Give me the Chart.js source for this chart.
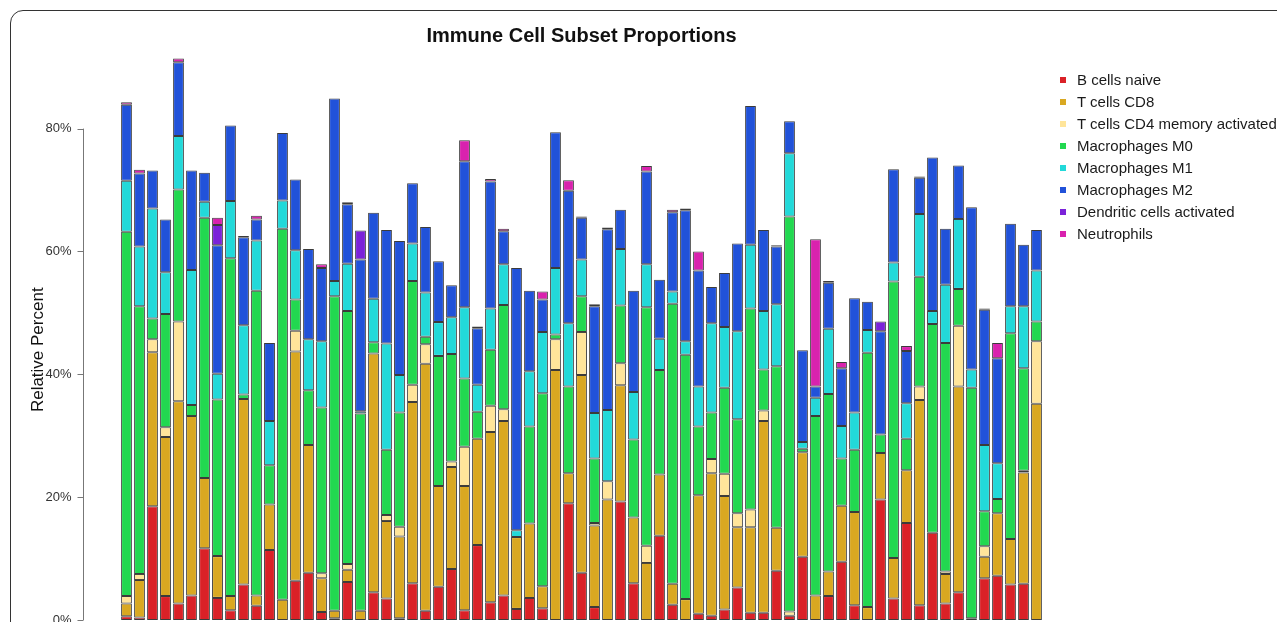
<!DOCTYPE html>
<html>
<head>
<meta charset="utf-8">
<title>Immune Cell Subset Proportions</title>
<script src="https://cdn.jsdelivr.net/npm/chart.js@4.4.0/dist/chart.umd.min.js"></script>
<style>
  html, body { margin: 0; padding: 0; background: #fff; overflow: hidden; }
  #wrap { position: relative; width: 1277px; height: 622px; overflow: hidden; }
  #frame { position: absolute; left: 10px; top: 10px; width: 1320px; height: 700px;
           border: 1px solid #333; border-radius: 13px; box-sizing: border-box; }
  #chart1 { position: absolute; left: 0; top: 0; }
  #legend { position: absolute; left: 1060px; top: 69px;
            font-family: "Liberation Sans", Arial, sans-serif; font-size: 15px; color: #1a1a1a; }
  .item { height: 22px; line-height: 22px; white-space: nowrap; }
  .box { display: inline-block; width: 6px; height: 6px; margin-right: 11px; vertical-align: middle; position: relative; top: -1px; }
</style>
</head>
<body>
<div id="wrap">
  <div id="frame"></div>
  <canvas id="chart1" width="1277" height="622"></canvas>
  <div id="legend"></div>
</div>
<script>
// cell types, bottom to top of each stack
var cellTypes = ["B cells naive", "T cells CD8", "T cells CD4 memory activated", "Macrophages M0",
                 "Macrophages M1", "Macrophages M2", "Dendritic cells activated", "Neutrophils"];
var cellColors = ["#DA2127", "#D9A821", "#FFE59A", "#22D850", "#22D9D9", "#2152D9", "#7B22D9", "#D922AE"];

// relative percent per sample (71 samples)
var bCellsNaive = [0.6,0.4,18.5,3.9,2.7,4.0,11.7,3.6,1.6,5.8,2.3,11.4,0,6.4,7.7,1.3,0.3,6.2,0,4.5,
  3.5,0.3,6.0,1.5,5.4,8.3,1.6,12.2,2.9,4.0,1.8,3.6,1.9,0,19.0,7.7,2.1,0,19.3,6.0,
  0,13.7,2.5,0,1.0,0.7,1.7,5.3,1.2,1.2,8.0,0.7,10.3,0,3.9,9.5,2.4,0,19.6,3.5,
  15.8,2.4,14.2,2.7,4.5,0.3,6.8,7.2,5.8,5.9,0];
var tCellsCD8 = [2.1,6.1,25.1,25.9,32.9,29.2,11.4,6.8,2.3,30.2,1.7,7.4,3.3,37.3,20.8,5.5,1.2,2.0,1.5,38.9,
  12.6,13.3,29.5,40.2,16.4,16.6,20.2,17.3,27.7,28.4,11.7,12.1,3.6,40.7,4.9,32.2,13.3,19.6,18.9,10.7,
  9.3,10.0,3.4,3.4,19.3,23.2,18.5,9.8,13.9,31.2,7.0,0,17.0,4.0,4.0,9.1,15.2,2.1,7.6,6.6,
  8.6,33.4,0,4.8,33.5,0,3.5,10.2,7.4,18.1,35.2];
var tCellsCD4MemAct = [1.2,1.0,2.1,1.6,13.0,0,0,0,0,0,0,0,0,3.4,0,0.8,0,0.9,0,0,
  1.0,1.6,2.8,3.2,0,0.9,6.4,0,4.3,1.9,0,0,0,5.0,0,7.0,0.4,3.0,3.6,0,
  2.8,0,0,0,0,2.3,3.6,2.3,2.9,1.7,0,0.7,0,0,0,0,0,0,0,0,
  0,2.2,0,0.4,9.9,0,1.7,0,0,0.3,10.2];
var macrophagesM0 = [59.3,43.6,3.4,18.4,21.5,1.8,42.4,25.5,55.0,0.7,49.6,6.4,60.4,5.1,8.9,27.0,51.2,41.2,32.1,1.8,
  10.6,18.6,16.9,1.2,21.2,17.5,11.1,4.4,9.1,17.0,0,15.8,31.4,0.8,14.1,5.8,10.5,0,9.4,12.7,
  38.8,17.0,45.6,39.8,11.2,7.6,14.0,15.3,32.7,6.7,26.3,64.3,0.6,29.2,28.9,7.7,10.1,41.4,3.0,45.0,
  5.1,17.9,34.0,37.2,6.0,37.5,5.7,2.3,33.5,16.7,3.2];
var macrophagesM1 = [8.3,9.7,17.9,6.8,8.7,22.0,2.6,4.2,9.3,11.3,8.2,7.2,4.6,8.0,8.3,10.8,2.5,7.7,0.4,7.1,
  17.3,6.1,6.1,7.2,5.5,6.0,11.6,4.4,6.7,6.6,1.1,9.0,10.0,10.8,10.3,6.0,7.4,11.6,9.2,7.7,
  7.0,5.1,2.0,2.2,6.5,14.5,9.9,14.3,10.4,9.5,10.1,10.3,1.1,3.0,10.6,5.3,6.1,3.7,0,3.1,
  5.8,10.2,2.1,9.5,11.4,3.0,10.8,5.8,4.4,10.1,8.3];
var macrophagesM2 = [12.4,11.9,6.2,8.6,12.0,16.2,4.7,20.9,12.3,14.3,3.4,12.7,11.0,11.5,14.7,11.9,29.7,9.7,24.7,14.0,
  18.5,21.8,9.8,10.7,9.9,5.2,23.8,9.2,20.7,5.4,42.7,13.1,5.3,22.1,21.6,6.8,17.4,29.4,6.4,16.5,
  15.1,9.6,12.9,21.3,18.9,5.9,8.8,14.3,22.6,13.2,9.4,5.2,14.9,1.8,7.5,9.4,18.6,4.6,16.8,15.2,
  8.5,5.9,25.0,9.1,8.7,26.4,22.0,17.1,13.4,10.0,6.6];
var dendriticAct = [0,0,0,0,0,0,0,3.3,0,0,0,0,0,0,0,0,0,0,4.7,0,
  0,0,0,0,0,0,0,0,0,0,0,0,0,0,0,0,0,0,0,0,
  0,0,0,0,0,0,0,0,0,0,0,0,0,0,0,0,0,0,1.6,0,
  0,0,0,0,0,0,0,0,0,0,0];
var neutrophils = [0.4,0.6,0,0,0.6,0,0,1.2,0,0.2,0.6,0,0,0,0,0.6,0,0.3,0,0,
  0,0,0,0,0,0,3.4,0.3,0.4,0.4,0,0,1.3,0,1.7,0.2,0.3,0.3,0,0,
  0.9,0,0.4,0.3,3.1,0,0,0,0,0,0.2,0,0,24.0,0.3,1.0,0,0,0,0,
  0.8,0.2,0,0,0,0,0.2,2.5,0,0,0];

var seriesValues = [bCellsNaive, tCellsCD8, tCellsCD4MemAct, macrophagesM0,
                    macrophagesM1, macrophagesM2, dendriticAct, neutrophils];
var samples = bCellsNaive.map(function (v, i) { return "Sample" + (i + 1); });
var yTicks = [0, 20, 40, 60, 80];
var yMax = 92.8;

var fontFamily = '"Liberation Sans", Arial, sans-serif';

// R style axis: line only over the tick range, set off to the left of the bars
var rAxis = {
  id: 'rAxis',
  afterDraw: function (chart) {
    var ctx = chart.ctx;
    var y = chart.scales.y;
    var xLine = chart.chartArea.left - 36.5;
    ctx.save();
    ctx.strokeStyle = '#777';
    ctx.lineWidth = 1;
    ctx.beginPath();
    ctx.moveTo(xLine, y.getPixelForValue(yTicks[0]));
    ctx.lineTo(xLine, y.getPixelForValue(yTicks[yTicks.length - 1]));
    yTicks.forEach(function (t) {
      var py = Math.round(y.getPixelForValue(t)) + 0.5;
      ctx.moveTo(xLine - 6, py);
      ctx.lineTo(xLine, py);
    });
    ctx.stroke();
    ctx.fillStyle = '#333';
    ctx.font = '13px ' + fontFamily;
    ctx.textAlign = 'right';
    ctx.textBaseline = 'middle';
    yTicks.forEach(function (t) {
      ctx.fillText(t + '%', xLine - 12, y.getPixelForValue(t));
    });
    ctx.translate(38, y.getPixelForValue(44));
    ctx.rotate(-Math.PI / 2);
    ctx.textAlign = 'center';
    ctx.fillStyle = '#111';
    ctx.font = '17px ' + fontFamily;
    ctx.fillText('Relative Percent', 0, 0);
    ctx.restore();
  }
};

var datasets = [];
for (var i = 0; i < cellTypes.length; i++) {
  datasets.push({
    label: cellTypes[i],
    data: seriesValues[i],
    backgroundColor: cellColors[i],
    borderColor: 'rgba(25,25,25,0.85)',
    borderWidth: 1,
    borderSkipped: false,
    categoryPercentage: 1.0,
    barPercentage: 0.83
  });
}

var ctx = document.getElementById('chart1');
var myChart = new Chart(ctx, {
  type: 'bar',
  data: { labels: samples, datasets: datasets },
  options: {
    responsive: false,
    animation: false,
    layout: { padding: { left: 120, right: 234, top: 24, bottom: 2 } },
    plugins: {
      legend: { display: false },
      tooltip: { enabled: false },
      title: {
        display: true,
        fullSize: false,
        text: 'Immune Cell Subset Proportions',
        color: '#111',
        font: { family: fontFamily, size: 20, weight: 'bold' },
        padding: { top: 0, bottom: 2 }
      }
    },
    scales: {
      x: { stacked: true, display: false },
      y: { stacked: true, display: false, min: 0, max: yMax }
    }
  },
  plugins: [rAxis]
});

// legend as html
var legend = document.getElementById('legend');
cellTypes.forEach(function (name, i) {
  var row = document.createElement('div');
  row.className = 'item';
  row.innerHTML = '<span class="box" style="background:' + cellColors[i] + '"></span>' + name;
  legend.appendChild(row);
});
</script>
</body>
</html>
